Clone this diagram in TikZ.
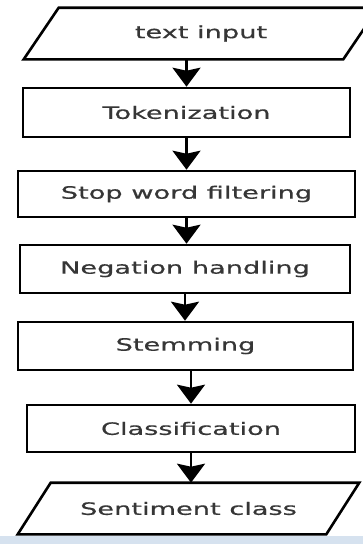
\documentclass[tikz,border=0pt]{standalone}
\usepackage{fontspec}
\setmainfont{DejaVu Sans}
\newfontface\labelfont{DejaVu Sans}[FakeBold=0.5]
\usepackage{graphicx}
\usetikzlibrary{arrows.meta}

% stretched label text
\newcommand{\widetext}[1]{\scalebox{1.6}[1]{#1}}

\begin{document}
\begin{tikzpicture}[x=1pt, y=-1pt,
    stepBox/.style={rectangle, draw=borderColour, line width=2.6pt, inner sep=0pt,
        minimum height=48pt, text=textColour, font=\labelfont\fontsize{17}{20}\selectfont},
    ioBox/.style={stepBox, draw=none, minimum height=49pt},
    ioShape/.style={draw=borderColour, line width=2.6pt, line join=miter},
    flowArrow/.style={-{Stealth[length=19pt,width=28pt,inset=3pt]}, draw=borderColour, line width=2.6pt}]
    \definecolor{borderColour}{HTML}{000000}
    \definecolor{textColour}{HTML}{363636}
    \definecolor{stripColour}{HTML}{D6E2EF}
    \def\slantIn{35}
    \def\slantOut{33}

    \useasboundingbox (0,0) rectangle (363,544);

    % Light strip at the bottom
    \fill[stripColour] (0,536) rectangle (363,544);

    % Input and output (the input runs past the right edge)
    \node[ioBox, minimum width=352pt] (input) at (201,33.5) {\widetext{text input}};
    \draw[ioShape] (input.south west) -- ([xshift=\slantIn pt]input.north west)
        -- (input.north east) -- ([xshift=-\slantIn pt]input.south east) -- cycle;
    \node[ioBox, minimum width=339pt] (output) at (188.5,508.5) {\widetext{Sentiment class}};
    \draw[ioShape] (output.south west) -- ([xshift=\slantOut pt]output.north west)
        -- (output.north east) -- ([xshift=-\slantOut pt]output.south east) -- cycle;

    % Processing steps
    \node[stepBox, minimum width=327pt, minimum height=49pt] (token) at (186.5,112.5) {\widetext{Tokenization}};
    \node[stepBox, minimum width=337pt, minimum height=46pt] (stop) at (186.5,194) {\widetext{Stop word filtering}};
    \node[stepBox, minimum width=330pt] (negation) at (185,269) {\widetext{Negation handling}};
    \node[stepBox, minimum width=335pt] (stem) at (185.5,346) {\widetext{Stemming}};
    \node[stepBox, minimum width=328pt, minimum height=47pt] (classify) at (191,428.5) {\widetext{Classification}};

    % Arrows
    \draw[flowArrow] (token.north |- input.south) -- (token.north);
    \draw[flowArrow] (token.south) -- (token.south |- stop.north);
    \draw[flowArrow] (stop.south) -- (stop.south |- negation.north);
    \draw[flowArrow] (negation.south) -- (negation.south |- stem.north);
    \draw[flowArrow] (classify.north |- stem.south) -- (classify.north);
    \draw[flowArrow] (classify.south) -- (classify.south |- output.north);
\end{tikzpicture}
\end{document}
